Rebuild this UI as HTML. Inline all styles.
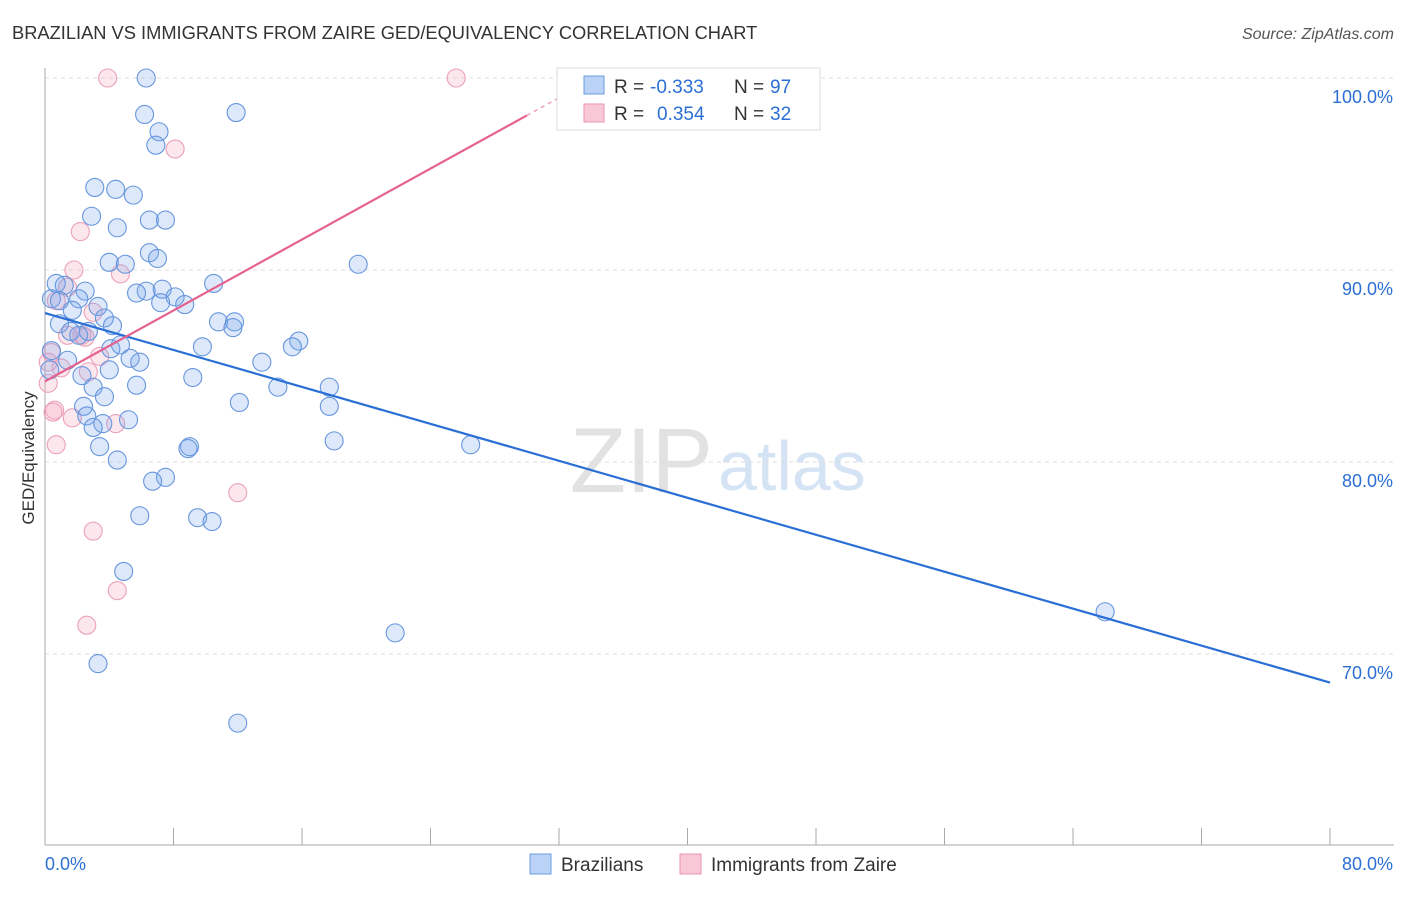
<!DOCTYPE html>
<html><head><meta charset="utf-8"><style>
body{margin:0;background:#fff;font-family:"Liberation Sans",sans-serif}
svg text{font-family:"Liberation Sans",sans-serif}
</style></head><body>
<svg id="c" width="1406" height="892">
<text x="12" y="39" font-size="18.3" fill="#333">BRAZILIAN VS IMMIGRANTS FROM ZAIRE GED/EQUIVALENCY CORRELATION CHART</text>
<text x="1394" y="39" font-size="16" fill="#555" font-style="italic" text-anchor="end">Source: ZipAtlas.com</text>
<text x="713" y="492" font-size="92" fill="#e2e2e2" font-family="Liberation Serif" text-anchor="end">ZIP</text>
<text x="718" y="490" font-size="70" fill="#d5e4f5">atlas</text>
<text transform="translate(34,458) rotate(-90)" font-size="17" fill="#333" text-anchor="middle">GED/Equivalency</text>
<g id="grid"></g><g id="pts"></g><g id="lines"></g>
<g>
<rect x="557" y="68" width="263" height="62" fill="#fff" stroke="#ddd"/>
<rect x="584" y="76" width="20" height="18" fill="#b9d2f5" stroke="#6a9be0"/>
<rect x="584" y="104" width="20" height="18" fill="#f9c8d6" stroke="#e896b0"/>
<text x="614" y="93" font-size="19" fill="#333">R =</text><text x="650" y="93" font-size="19" fill="#2c6fd4">-0.333</text>
<text x="734" y="93" font-size="19" fill="#333">N =</text><text x="770" y="93" font-size="19" fill="#2c6fd4">97</text>
<text x="614" y="120" font-size="19" fill="#333">R =</text><text x="657" y="120" font-size="19" fill="#2c6fd4">0.354</text>
<text x="734" y="120" font-size="19" fill="#333">N =</text><text x="770" y="120" font-size="19" fill="#2c6fd4">32</text>
</g>
<g>
<rect x="530" y="854" width="21" height="20" fill="#b9d2f5" stroke="#6a9be0"/>
<text x="561" y="871" font-size="19" fill="#333">Brazilians</text>
<rect x="680" y="854" width="21" height="20" fill="#f9c8d6" stroke="#e896b0"/>
<text x="711" y="871" font-size="19" fill="#333">Immigrants from Zaire</text>
</g>
</svg>
<script>
const yTicks=[100,90,80,70];
const xTickLabels=["0.0%","80.0%"];
const blueX=[6.3,11.9,6.2,7.1,6.9,3.1,4.4,5.5,2.9,6.5,7.5,4.5,6.5,7.0,4.0,5.0,19.5,10.5,0.7,1.2,2.5,6.3,7.3,5.7,8.1,0.4,0.9,2.1,7.2,8.7,3.3,1.7,3.7,10.8,11.8,0.9,4.2,11.7,1.6,2.7,2.1,15.8,15.4,4.1,4.7,9.8,5.3,5.9,1.4,13.5,4.0,2.3,9.2,5.7,14.5,17.7,3.0,3.7,12.1,17.7,2.4,2.6,5.2,3.6,3.0,18.0,26.5,3.4,9.0,8.9,4.5,7.5,6.7,5.9,9.5,10.4,4.9,66.0,21.8,3.3,12.0,0.3,0.4];
const blueY=[100,98.2,98.1,97.2,96.5,94.3,94.2,93.9,92.8,92.6,92.6,92.2,90.9,90.6,90.4,90.3,90.3,89.3,89.3,89.2,88.9,88.9,89.0,88.8,88.6,88.5,88.4,88.5,88.3,88.2,88.1,87.9,87.5,87.3,87.3,87.2,87.1,87.0,86.8,86.8,86.6,86.3,86.0,85.9,86.1,86.0,85.4,85.2,85.3,85.2,84.8,84.5,84.4,84.0,83.9,83.9,83.9,83.4,83.1,82.9,82.9,82.4,82.2,82.0,81.8,81.1,80.9,80.8,80.8,80.7,80.1,79.2,79.0,77.2,77.1,76.9,74.3,72.2,71.1,69.5,66.4,84.8,85.8];
const pinkX=[3.9,25.6,8.1,2.2,1.8,4.7,1.4,0.7,3.0,2.3,1.4,0.4,0.2,1.0,2.7,0.2,0.6,0.5,1.7,4.4,0.7,12.0,3.0,4.5,2.6,3.4,2.5];
const pinkY=[100,100,96.3,92.0,90.0,89.8,89.1,88.4,87.8,86.6,86.6,85.7,85.2,84.9,84.7,84.1,82.7,82.6,82.3,82.0,80.9,78.4,76.4,73.3,71.5,85.5,86.5];
const blueFit=[87.76,-0.2406];
const pinkFit=[84.2,0.4617];
const X=v=>45+v*1285/80, Y=v=>78+(100-v)*19.2;
const NS="http://www.w3.org/2000/svg";
function mk(p,t,a){const e=document.createElementNS(NS,t);for(const k in a)e.setAttribute(k,a[k]);p.appendChild(e);return e;}
const g=document.getElementById('grid');
yTicks.forEach(t=>{
 const l=mk(g,'line',{x1:45,x2:1394,y1:Y(t),y2:Y(t),stroke:'#ddd','stroke-dasharray':'4,4'});
 
 
 const tx=mk(g,'text',{x:1393,y:Y(t)+25,'font-size':18,fill:'#2c6fd4','text-anchor':'end'});tx.textContent=t.toFixed(1)+'%';
 
 
});
mk(g,'line',{x1:45,x2:45,y1:68,y2:845,stroke:'#aaa'});
mk(g,'line',{x1:45,x2:1394,y1:845,y2:845,stroke:'#aaa'});
for(let i=0;i<=10;i++){mk(g,'line',{x1:X(i*8),x2:X(i*8),y1:828,y2:845,stroke:'#aaa'});}
xTickLabels.forEach((s,i)=>{const tx=mk(g,'text',{x:i?1393:45,y:870,'font-size':18,fill:'#2c6fd4','text-anchor':i?'end':'start'});tx.textContent=s;
 
 });
const p=document.getElementById('pts');
pinkX.forEach((x,i)=>{const c=mk(p,'circle',{cx:X(x),cy:Y(pinkY[i]),r:9,fill:'rgba(244,160,185,0.25)',stroke:'#eba0b8','stroke-width':1.1});
 
 });
blueX.forEach((x,i)=>{const c=mk(p,'circle',{cx:X(x),cy:Y(blueY[i]),r:9,fill:'rgba(120,165,235,0.25)',stroke:'#6696de','stroke-width':1.1});
 
 });
const L=document.getElementById('lines');
const bl=mk(L,'line',{x1:X(0),y1:Y(blueFit[0]),x2:X(80),y2:Y(blueFit[0]+80*blueFit[1]),stroke:'#2a6fd6','stroke-width':2.2});


const pl=mk(L,'line',{x1:X(0),y1:Y(pinkFit[0]),x2:X(30),y2:Y(pinkFit[0]+30*pinkFit[1]),stroke:'#e5628f','stroke-width':2.2});


const pd=mk(L,'line',{x1:X(30),y1:Y(pinkFit[0]+30*pinkFit[1]),x2:X(33.5),y2:Y(pinkFit[0]+33.5*pinkFit[1]),stroke:'#f0a0bb','stroke-width':1.5,'stroke-dasharray':'4,4'});


</script>
</body></html>
